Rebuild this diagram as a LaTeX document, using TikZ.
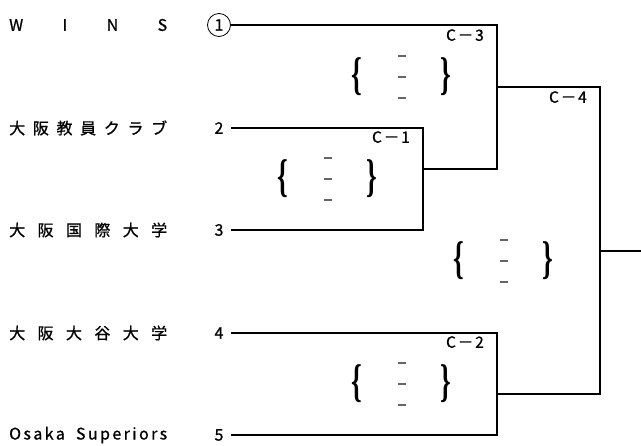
\documentclass[tikz,border=0pt]{standalone}
\usepackage{fontspec}
\setmainfont{Noto Sans CJK JP}[FakeBold=0.8]
\newfontfamily\bracefont{Liberation Serif}
\usetikzlibrary{positioning}
\tikzstyle{team}=[anchor=west,inner sep=0pt,font=\fontsize{16}{16}\selectfont]
\tikzstyle{seed}=[inner sep=0pt,font=\fontsize{16}{16}\selectfont]
\tikzstyle{game}=[anchor=north east,inner sep=0pt,font=\fontsize{15.5}{16}\selectfont\addfontfeature{LetterSpace=12}]
\tikzstyle{brk}=[line width=2.2pt]
\tikzstyle{scoremark}=[draw=black!60,line width=1.3pt]
\tikzstyle{brace}=[inner sep=0pt,font=\bracefont\bfseries\fontsize{34}{34}\selectfont]

\begin{document}
\begin{tikzpicture}[x=1pt,y=-1pt]
\useasboundingbox (0,0) rectangle (641,446);
% teams
\foreach \n/\y/\name in {1/25/{W\hfill I\hfill N\hfill S},
	2/128/{大\hfill 阪\hfill 教\hfill 員\hfill ク\hfill ラ\hfill ブ},
	3/230/{大\hfill 阪\hfill 国\hfill 際\hfill 大\hfill 学},
	4/333/{大\hfill 阪\hfill 大\hfill 谷\hfill 大\hfill 学},
	5/435/{{\addfontfeature{LetterSpace=15}Osaka}\hfill{\addfontfeature{LetterSpace=15}Superiors}}} {
	\node[team] (t\n) at (9,\y) {\makebox[158pt]{\name}};
	\node[seed] (s\n) at (219,\y) {\n};
	\coordinate (e\n) at (231,\y);
}
\node[draw,circle,line width=0.8pt,minimum size=23pt] (o1) at (s1) {};
% games
\coordinate (c1) at (423,169);
\coordinate (c2) at (497,394);
\coordinate (c3) at (497,87);
\coordinate (c4) at (600,251);
\coordinate (w) at (641,251);
\draw[brk] (e2) -| (c1) |- (e3);
\draw[brk] (e4) -| (c2) |- (e5);
\draw[brk] (e1) -| (c3) |- (c1);
\draw[brk] (c3) -| (c4) |- (c2);
\draw[brk] (c4) -- (w);
\node[game] (g1) at (410,131) {C－1};
\node[game] (g2) at (484,336) {C－2};
\node[game] (g3) at (484,29) {C－3};
\node[game] (g4) at (587,91) {C－4};
% scores
\foreach \k/\x/\y in {1/328/179,2/402/384,3/402/77,4/504/261} {
	\node[brace] (l\k) at (\x-45,\y) {\scalebox{0.8}[1.35]{\{}};
	\node[brace] (r\k) at (\x+44,\y) {\scalebox{0.8}[1.35]{\}}};
	\foreach \d in {-21,0,21}
		\draw[scoremark] (\x-4,\y+\d) -- (\x+4,\y+\d);
}
\end{tikzpicture}
\end{document}
